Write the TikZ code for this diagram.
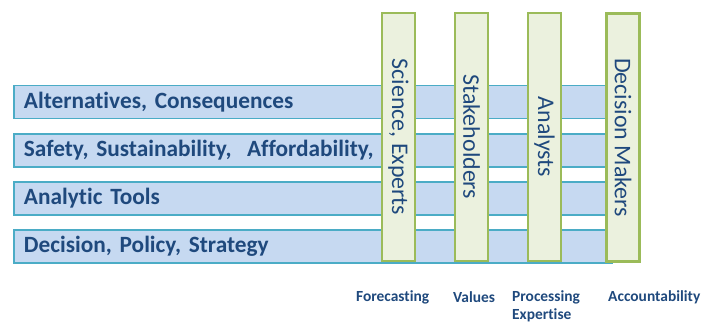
\documentclass[tikz,border=0pt]{standalone}
\usepackage{fontspec}
\setmainfont{Carlito}[Ligatures=NoCommon]
\newfontfamily\barfont{Carlito}[Ligatures=NoCommon, WordSpace=0.6]
\definecolor{barfill}{HTML}{C6D9F1}
\definecolor{barline}{HTML}{4BACC6}
\definecolor{colfill}{HTML}{EBF1DE}
\definecolor{colline}{HTML}{9BBB59}
\definecolor{txt}{HTML}{1F497D}
\begin{document}
\begin{tikzpicture}[x=1bp,y=-1bp,
  bar/.style={draw=barline, fill=barfill, line width=1.8bp, minimum height=33bp,
    text width=578bp, inner xsep=10bp, inner ysep=0pt, align=left, anchor=north west,
    font=\barfont\fontsize{23.4}{26}\selectfont\bfseries, text=txt},
  col/.style={draw=colline, fill=colfill, line width=2.2bp, rotate=-90,
    minimum width=248bp, minimum height=33bp, inner sep=0pt,
    font=\fontsize{24}{26}\selectfont, text=txt},
  lab/.style={font=\fontsize{15.5}{19}\selectfont\bfseries, text=txt, inner sep=0pt, align=left}]
\useasboundingbox (0,0) rectangle (704,324);
\node[bar] (b1) at (13,84.5) {Alternatives, Consequences};
\node[bar] (b2) at (13,133) {Safety, Sustainability,\ \ Affordability,};
\node[bar] (b3) at (13,181) {Analytic Tools};
\node[bar] (b4) at (13,229) {Decision, Policy, Strategy};
\node[col] (c1) at (398.5,137) {Science, Experts};
\node[col] (c2) at (471.5,137) {Stakeholders};
\node[col] (c3) at (544.5,137) {Analysts};
\node[col] (c4) at (623,137.5) {Decision Makers};
\node[lab, anchor=west] (l1) at (356,297) {Forecasting};
\node[lab, anchor=west] (l2) at (453,297.5) {Values};
\node[lab, anchor=north west] (l3) at (512,290) {Processing\\Expertise};
\node[lab, anchor=west] (l4) at (608,297) {Accountability};
\end{tikzpicture}
\end{document}
